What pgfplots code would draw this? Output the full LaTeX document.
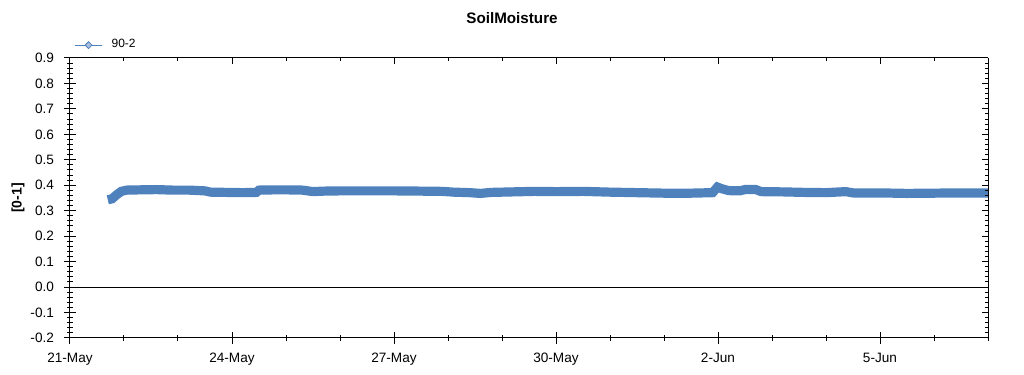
\documentclass[border=0pt]{standalone}
\usepackage{fontspec}
\setmainfont{Liberation Sans}
\usepackage{pgfplots}
\pgfplotsset{compat=1.18}
\usetikzlibrary{shapes.geometric}
\definecolor{bandblue}{RGB}{79,129,189}
\definecolor{legfill}{RGB}{167,191,222}
\begin{document}
\begin{tikzpicture}
\path[use as bounding box] (-35pt,-18.5pt) rectangle (477pt,169pt);
% main axis: bottom & left, labels, centered ticks
\begin{axis}[
  at={(0,0)}, anchor=south west,
  scale only axis, width=459pt, height=140pt,
  xmin=0, xmax=17, ymin=-0.2, ymax=0.9,
  axis x line*=bottom, axis y line*=left,
  axis line style={line width=0.5pt, black, -},
  tick align=center,
  major tick length=6pt, minor tick length=2.8pt,
  every tick/.style={black, line width=0.5pt},
  xtick={0,3,6,9,12,15},
  xticklabels={21-May,24-May,27-May,30-May,2-Jun,5-Jun},
  minor xtick={1,2,4,5,7,8,10,11,13,14,16,17},
  ytick={-0.2,-0.1,0,0.1,0.2,0.3,0.4,0.5,0.6,0.7,0.8,0.9},
  yticklabels={-0.2,-0.1,0.0,0.1,0.2,0.3,0.4,0.5,0.6,0.7,0.8,0.9},
  minor y tick num=4,
  tick label style={font=\fontsize{6.8pt}{8pt}\selectfont},
  yticklabel style={xshift=-1.5pt},
  xticklabel style={yshift=-1pt},
  legend style={at={(axis description cs:0.0044,1.046)}, anchor=west, draw=none, fill=none,
    inner sep=0pt, font=\fontsize{6pt}{7pt}\selectfont,
    /tikz/every odd column/.append style={column sep=2.5pt}},
  legend image code/.code={%
    \draw[bandblue, line width=0.6pt] (0pt,0pt) -- (13.5pt,0pt);
    \node[diamond, draw=bandblue, fill=legfill, inner sep=0pt, minimum width=3.6pt, minimum height=3.6pt, line width=0.4pt] at (6.75pt,0pt) {};},
  clip=false,
]
\addplot[black, line width=0.5pt, forget plot] coordinates {(0,0) (17,0)};
\addplot[bandblue, line width=4.6pt, line join=miter, forget plot] coordinates {
(0.70,0.343) (0.78,0.347) (0.86,0.362) (0.95,0.376) (1.05,0.381)
(1.3,0.382) (1.6,0.383) (1.9,0.381) (2.2,0.381) (2.5,0.378)
(2.6,0.373) (2.9,0.372) (3.2,0.371) (3.45,0.372) (3.5,0.381)
(3.8,0.382) (4.0,0.382) (4.3,0.381) (4.5,0.375) (4.7,0.377)
(5.0,0.378) (5.5,0.378) (6.0,0.378) (6.5,0.377) (6.9,0.376)
(7.1,0.373) (7.4,0.371) (7.6,0.368) (7.8,0.372) (8.2,0.374)
(8.6,0.376) (9.0,0.375) (9.5,0.376) (10.0,0.373) (10.5,0.371)
(11.0,0.369) (11.5,0.369) (11.9,0.371) (11.99,0.393) (12.06,0.387)
(12.2,0.379) (12.4,0.378) (12.5,0.383) (12.7,0.383) (12.8,0.375)
(13.2,0.374) (13.6,0.372) (14.0,0.371) (14.37,0.375) (14.5,0.370)
(15.0,0.370) (15.5,0.368) (16.0,0.369) (16.5,0.370) (17.0,0.370)
};
\addlegendimage{bandblue}
\addlegendentry{90-2}
\node[font=\fontsize{7.6pt}{9pt}\selectfont\bfseries] at (axis description cs:0.4815,1.143) {SoilMoisture};
\node[font=\fontsize{7pt}{8pt}\selectfont\bfseries, rotate=90] at (axis description cs:-0.0566,0.5) {[0-1]};
\end{axis}
% overlay axis: top & right, inside ticks
\begin{axis}[
  at={(0,0)}, anchor=south west,
  scale only axis, width=459pt, height=140pt,
  xmin=0, xmax=17, ymin=-0.2, ymax=0.9,
  axis x line*=top, axis y line*=right,
  axis line style={line width=0.5pt, black, -},
  tick align=inside,
  major tick length=3pt, minor tick length=1.5pt,
  every tick/.style={black, line width=0.5pt},
  xtick={0,3,6,9,12,15},
  minor xtick={1,2,4,5,7,8,10,11,13,14,16,17},
  ytick={-0.2,-0.1,0,0.1,0.2,0.3,0.4,0.5,0.6,0.7,0.8,0.9},
  minor y tick num=4,
  xticklabels={}, yticklabels={},
]
\end{axis}
\end{tikzpicture}
\end{document}
